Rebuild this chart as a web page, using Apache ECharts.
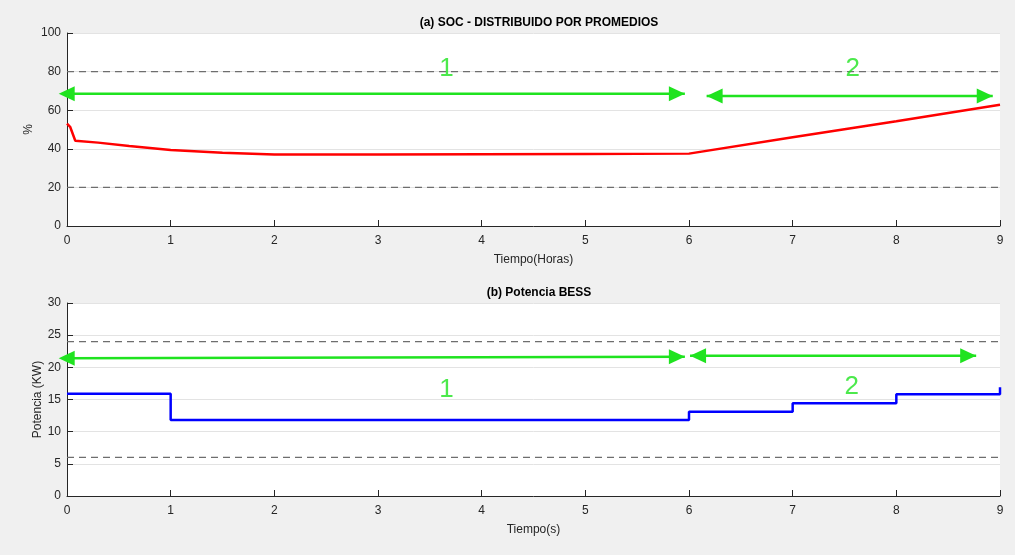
<!DOCTYPE html>
<html>
<head>
<meta charset="utf-8">
<script src="https://cdn.jsdelivr.net/npm/echarts@6/dist/echarts.min.js"></script>
<style>
  html, body { margin: 0; padding: 0; background: #f0f0f0; }
  #chart { width: 1015px; height: 555px; }
</style>
</head>
<body>
<div id="chart"></div>
<script>
// (a) SOC, % vs hours
const socData = [
  [0, 53.0], [0.03, 51.4], [0.08, 44.2], [0.3, 43.2], [0.6, 41.5], [1, 39.4],
  [1.5, 37.9], [2, 37.1], [2.1, 37.0], [3, 37.1], [4, 37.2], [5, 37.3],
  [6, 37.5], [7, 46.0], [8, 54.3], [9, 62.8]
]
const socLimits = [80, 20]

// (b) Potencia BESS, KW vs s
const bessData = [[0, 15.9], [1, 11.8], [6, 13.1], [7, 14.4], [8, 15.8], [9, 16.9]]
const bessLimits = [24, 6]

// green annotation arrows [x1, y1, x2, y2] and labels [x, y, text]
const socArrows = [[-0.08, 68.5, 5.96, 68.5], [6.17, 67.3, 8.93, 67.3]]
const socLabels = [[3.66, 81.5, '1'], [7.58, 81.5, '2']]
const bessArrows = [[-0.08, 21.4, 5.96, 21.65], [6.01, 21.8, 8.77, 21.8]]
const bessLabels = [[3.66, 16.5, '1'], [7.57, 17.0, '2']]

const green = '#1fe31f'
const axisColor = '#262626'
const fontFamily = 'Liberation Sans, Arial, sans-serif'

const chart = echarts.init(document.getElementById('chart'))

const makeX = (gridIndex, name) => ({
  type: 'value', gridIndex, min: 0, max: 9, interval: 1,
  name, nameLocation: 'middle', nameGap: 28,
  nameTextStyle: { color: axisColor, fontSize: 12, fontFamily },
  axisLine: { onZero: false, lineStyle: { color: axisColor, width: 1 } },
  axisTick: { inside: true, length: 6, lineStyle: { color: axisColor } },
  axisLabel: { color: axisColor, fontSize: 12, fontFamily, margin: 9 },
  splitLine: { show: false },
})

const makeY = (gridIndex, name, max, interval, nameGap) => ({
  type: 'value', gridIndex, min: 0, max, interval,
  name, nameLocation: 'middle', nameGap, nameMoveOverlap: false,
  nameTextStyle: { color: axisColor, fontSize: 12, fontFamily },
  axisLine: { show: true, lineStyle: { color: axisColor, width: 1 } },
  axisTick: { show: true, inside: true, length: 6, lineStyle: { color: axisColor } },
  axisLabel: { color: axisColor, fontSize: 12, fontFamily, margin: 6 },
  splitLine: { show: true, lineStyle: { color: '#e3e3e3', width: 1 } },
})

const limitSeries = (idx, values) => values.map(v => ({
  type: 'line', xAxisIndex: idx, yAxisIndex: idx,
  data: [[0, v], [9, v]], symbol: 'none', silent: true,
  lineStyle: { color: '#6e6e6e', width: 1.2, type: [7, 5] },
  z: 3,
}))

// each arrow: a shaft (line) plus two triangle heads (scatter)
const arrowSeries = (idx, arrows, labels) => {
  const out = []
  arrows.forEach(a => {
    out.push({
      type: 'line', xAxisIndex: idx, yAxisIndex: idx, clip: false, silent: true,
      data: [[a[0], a[1]], [a[2], a[3]]], symbol: 'none',
      lineStyle: { color: green, width: 2.5 }, z: 6,
    })
    out.push({
      type: 'scatter', xAxisIndex: idx, yAxisIndex: idx, clip: false, silent: true,
      symbol: 'triangle', symbolSize: [15, 16],
      itemStyle: { color: green, opacity: 1 },
      data: [
        { value: [a[0], a[1]], symbolRotate: 90, symbolOffset: [8, 0] },
        { value: [a[2], a[3]], symbolRotate: -90, symbolOffset: [-8, 0] },
      ],
      z: 7,
    })
  })
  out.push({
    type: 'scatter', xAxisIndex: idx, yAxisIndex: idx,
    symbolSize: 0, silent: true, clip: false,
    data: labels.map(l => ({
      value: [l[0], l[1]],
      label: { show: true, formatter: l[2], position: 'inside', color: green, fontSize: 26, fontFamily },
    })),
    z: 6,
  })
  return out
}

chart.setOption({
  backgroundColor: '#f0f0f0',
  animation: false,
  title: [
    { text: '(a) SOC - DISTRIBUIDO POR PROMEDIOS', left: 534, top: 12, textAlign: 'center',
      textStyle: { fontSize: 12, fontWeight: 'bold', color: '#000', fontFamily } },
    { text: '(b) Potencia BESS', left: 534, top: 282, textAlign: 'center',
      textStyle: { fontSize: 12, fontWeight: 'bold', color: '#000', fontFamily } },
  ],
  grid: [
    { left: 67, right: 15, top: 33, height: 193, show: true, backgroundColor: '#fff', borderWidth: 0 },
    { left: 67, right: 15, top: 303, height: 193, show: true, backgroundColor: '#fff', borderWidth: 0 },
  ],
  xAxis: [makeX(0, 'Tiempo(Horas)'), makeX(1, 'Tiempo(s)')],
  yAxis: [makeY(0, '%', 100, 20, 32), makeY(1, 'Potencia (KW)', 30, 5, 23)],
  series: [
    ...limitSeries(0, socLimits),
    ...limitSeries(1, bessLimits),
    {
      type: 'line', xAxisIndex: 0, yAxisIndex: 0, data: socData,
      symbol: 'none', lineStyle: { color: '#ff0000', width: 2.5 }, z: 5,
    },
    {
      type: 'line', xAxisIndex: 1, yAxisIndex: 1, data: bessData, step: 'end',
      symbol: 'none', lineStyle: { color: '#0000ff', width: 2.5 }, z: 5,
    },
    ...arrowSeries(0, socArrows, socLabels),
    ...arrowSeries(1, bessArrows, bessLabels),
  ],
})
</script>
</body>
</html>
